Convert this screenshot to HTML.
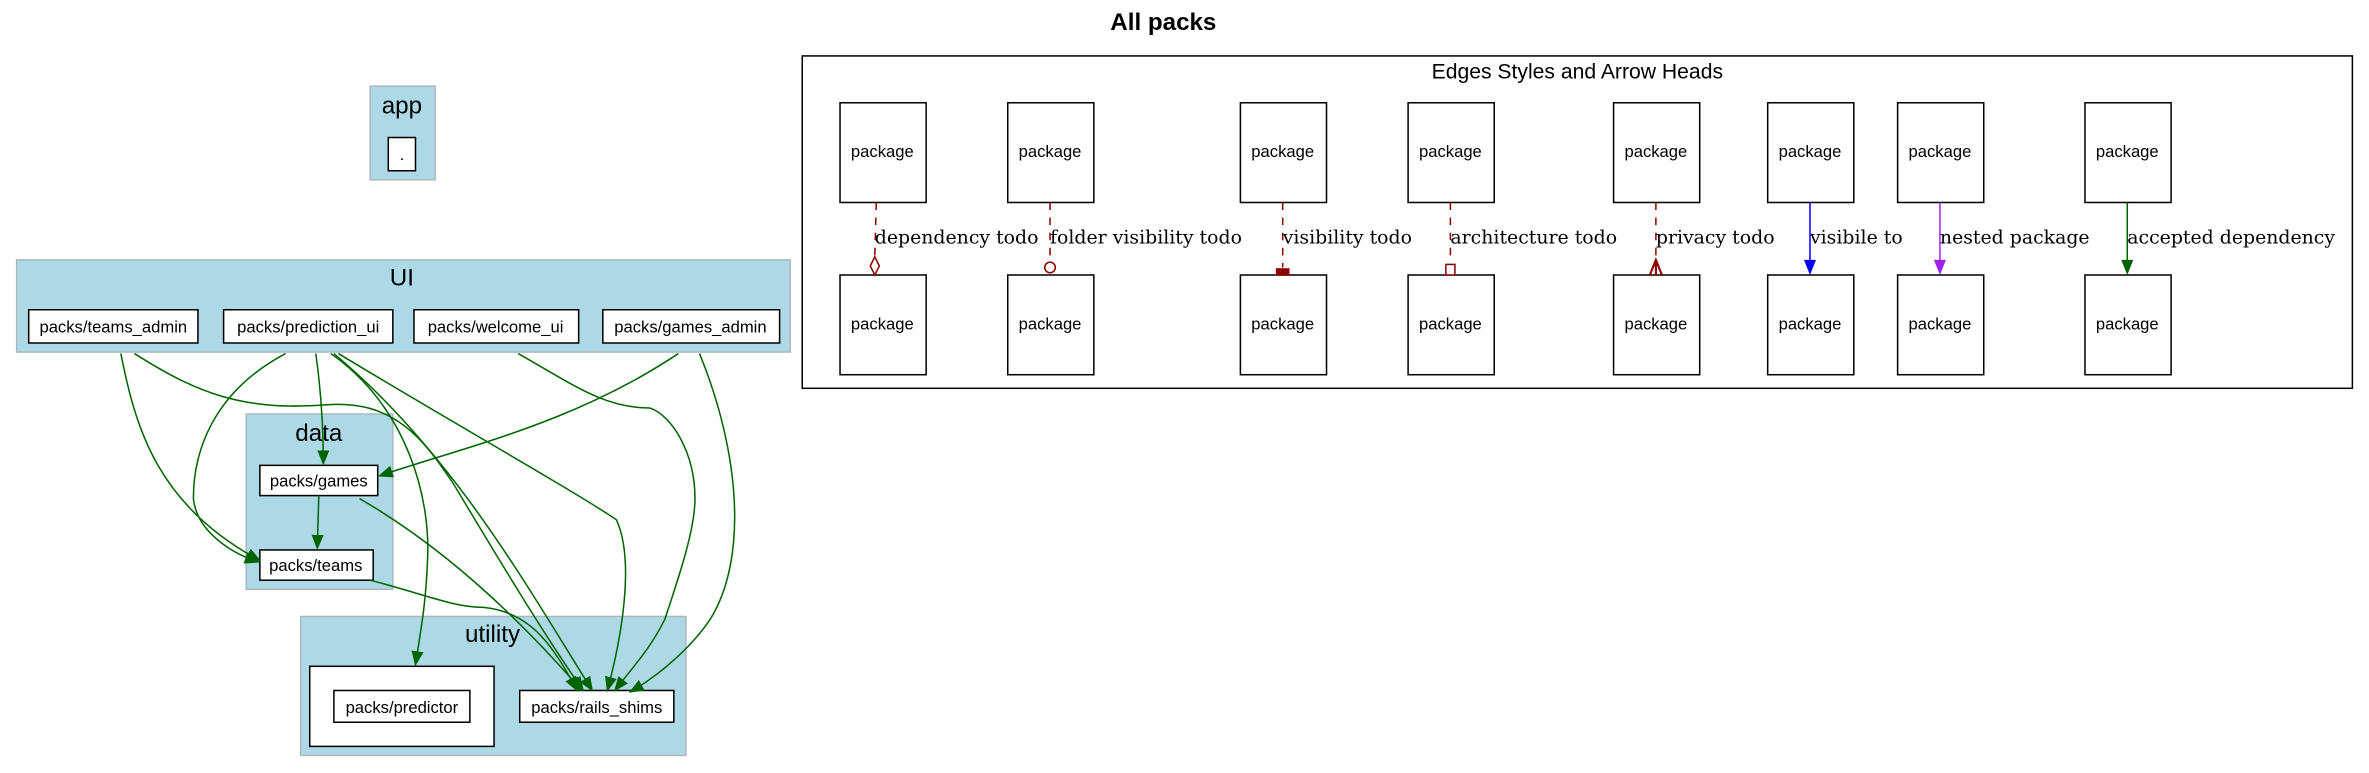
<!DOCTYPE html>
<html><head><meta charset="utf-8"><style>html,body{margin:0;padding:0;background:#fff}svg{display:block}</style></head>
<body>
<svg width="2369" height="773" viewBox="0 0 1568 511.6" xmlns="http://www.w3.org/2000/svg" font-family="Liberation Sans, sans-serif">
<defs>
<marker id="ag" markerWidth="10" markerHeight="8" refX="9" refY="4" orient="auto" markerUnits="userSpaceOnUse"><path d="M0,0 L10,4 L0,8 z" fill="#006400"/></marker>
</defs>
<rect width="1568" height="512" fill="#fff"/>
<text x="770" y="20" font-size="16" font-weight="bold" text-anchor="middle">All packs</text>

<!-- right box -->
<rect x="531" y="37" width="1026" height="220" fill="none" stroke="#000"/>
<text x="1044" y="52" font-size="14" text-anchor="middle">Edges Styles and Arrow Heads</text>
<g font-size="11" text-anchor="middle" stroke="#000" fill="#fff">
<rect x="556" y="68" width="57" height="66"/><rect x="556" y="182" width="57" height="66"/>
<rect x="667" y="68" width="57" height="66"/><rect x="667" y="182" width="57" height="66"/>
<rect x="821" y="68" width="57" height="66"/><rect x="821" y="182" width="57" height="66"/>
<rect x="932" y="68" width="57" height="66"/><rect x="932" y="182" width="57" height="66"/>
<rect x="1068" y="68" width="57" height="66"/><rect x="1068" y="182" width="57" height="66"/>
<rect x="1170" y="68" width="57" height="66"/><rect x="1170" y="182" width="57" height="66"/>
<rect x="1256" y="68" width="57" height="66"/><rect x="1256" y="182" width="57" height="66"/>
<rect x="1380" y="68" width="57" height="66"/><rect x="1380" y="182" width="57" height="66"/>
</g>
<g font-size="11" text-anchor="middle" fill="#000">
<text x="584" y="104">package</text><text x="584" y="218">package</text>
<text x="695" y="104">package</text><text x="695" y="218">package</text>
<text x="849" y="104">package</text><text x="849" y="218">package</text>
<text x="960" y="104">package</text><text x="960" y="218">package</text>
<text x="1096" y="104">package</text><text x="1096" y="218">package</text>
<text x="1198" y="104">package</text><text x="1198" y="218">package</text>
<text x="1284" y="104">package</text><text x="1284" y="218">package</text>
<text x="1408" y="104">package</text><text x="1408" y="218">package</text>
</g>
<g stroke="#8b0000" stroke-dasharray="5,5" fill="none">
<line x1="580" y1="134" x2="579" y2="170"/>
<line x1="695" y1="134" x2="695" y2="172"/>
<line x1="849" y1="134" x2="849" y2="177"/>
<line x1="960" y1="134" x2="960" y2="174"/>
<line x1="1096" y1="134" x2="1096" y2="172"/>
</g>
<g stroke="#8b0000" fill="none">
<path d="M579,170 L582,176 L579,182 L576,176 z" fill="#fff"/>
<circle cx="695" cy="177" r="3.5" fill="#fff"/>
<rect x="845" y="178" width="8" height="4" fill="#8b0000"/>
<rect x="957" y="175" width="6" height="7" fill="#fff"/>
<path d="M1092,182 L1096,172 L1100,182 M1096,182 L1096,172" stroke-width="1.4"/>
</g>
<line x1="1198" y1="134" x2="1198" y2="173" stroke="#0000ff"/>
<path d="M1194,172 L1198,182 L1202,172 z" fill="#0000ff"/>
<line x1="1284" y1="134" x2="1284" y2="173" stroke="#a020f0"/>
<path d="M1280,172 L1284,182 L1288,172 z" fill="#a020f0"/>
<line x1="1408" y1="134" x2="1408" y2="173" stroke="#006400"/>
<path d="M1404,172 L1408,182 L1412,172 z" fill="#006400"/>
<g font-family="DejaVu Serif, serif" font-size="12.5" fill="#000">
<text x="579" y="161">dependency todo</text>
<text x="695" y="161">folder visibility todo</text>
<text x="849" y="161">visibility todo</text>
<text x="960" y="161">architecture todo</text>
<text x="1096" y="161">privacy todo</text>
<text x="1198" y="161">visibile to</text>
<text x="1284" y="161">nested package</text>
<text x="1408" y="161">accepted dependency</text>
</g>

<!-- clusters -->
<g fill="#add8e6" stroke="#a9b8bf">
<rect x="245" y="57" width="43" height="62"/>
<rect x="11" y="172" width="512" height="61"/>
<rect x="163" y="274" width="97" height="116"/>
<rect x="199" y="408" width="255" height="92"/>
</g>
<g font-size="16" text-anchor="middle" fill="#000">
<text x="266" y="75">app</text>
<text x="266" y="189">UI</text>
<text x="211" y="292">data</text>
<text x="326" y="425">utility</text>
</g>
<rect x="205" y="441" width="122" height="53" fill="#fff" stroke="#000"/>
<g fill="#fff" stroke="#000">
<rect x="257" y="91" width="18" height="22"/>
<rect x="19" y="205" width="112" height="22"/>
<rect x="148" y="205" width="112" height="22"/>
<rect x="274" y="205" width="109" height="22"/>
<rect x="399" y="205" width="117" height="22"/>
<rect x="172" y="308" width="78" height="20"/>
<rect x="172" y="364" width="75" height="20"/>
<rect x="221" y="457" width="90" height="21"/>
<rect x="344" y="457" width="102" height="21"/>
</g>
<g font-size="11" text-anchor="middle" fill="#000">
<text x="266" y="106">.</text>
<text x="75" y="220">packs/teams_admin</text>
<text x="204" y="220">packs/prediction_ui</text>
<text x="328" y="220">packs/welcome_ui</text>
<text x="457" y="220">packs/games_admin</text>
<text x="211" y="322">packs/games</text>
<text x="209" y="378">packs/teams</text>
<text x="266" y="472">packs/predictor</text>
<text x="395" y="472">packs/rails_shims</text>
</g>

<!-- edges -->
<g stroke="#006400" fill="none" marker-end="url(#ag)">
<path d="M80,234 C90,285 105,335 172,371"/>
<path d="M89,234 C130,260 160,272 215,268 C260,264 280,290 300,320 C330,370 360,420 386,457"/>
<path d="M189,234 C140,260 128,300 128,330 C130,350 150,365 171,372"/>
<path d="M209,234 C212,255 214,280 214,307"/>
<path d="M219,234 C270,270 285,330 283,370 C282,400 278,420 275,440"/>
<path d="M221,234 C300,300 350,390 392,457"/>
<path d="M224,234 C300,280 380,325 408,344 C420,370 412,420 402,457"/>
<path d="M343,234 C380,255 400,270 430,270 C445,275 460,300 460,330 C460,350 450,380 440,410 C430,430 420,440 407,457"/>
<path d="M449,234 C380,280 310,295 251,315"/>
<path d="M463,234 C490,300 495,370 470,410 C460,425 440,445 417,458"/>
<path d="M211,328 L210,363"/>
<path d="M238,330 C290,360 340,405 385,457"/>
<path d="M245,384 C280,393 300,402 320,402 C350,405 365,425 382,457"/>
</g>
</svg>
</body></html>
